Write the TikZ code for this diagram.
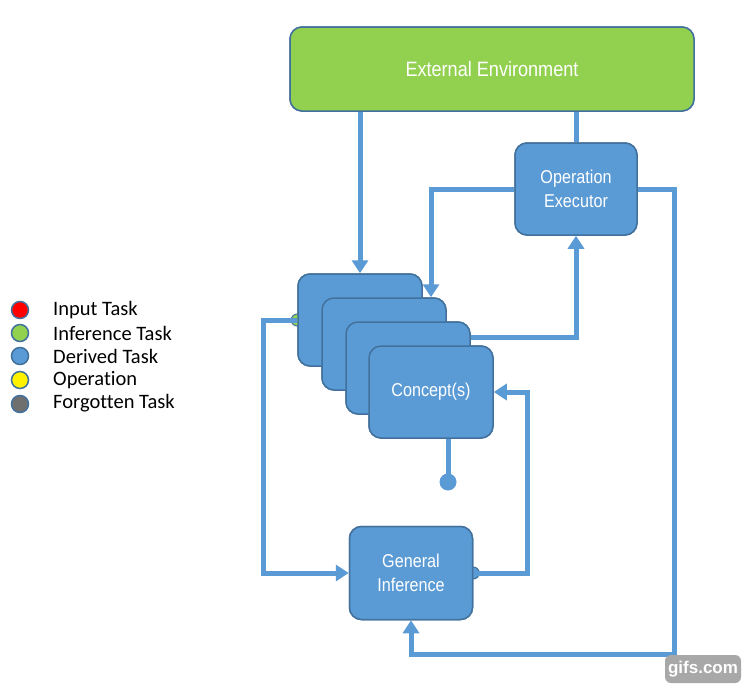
\documentclass[tikz,border=0pt]{standalone}
\usepackage{fontspec}
\setmainfont{Liberation Sans}
\newfontfamily\boxfont[FakeStretch=0.87]{Liberation Sans}
\newfontfamily\legendfont[Ligatures=NoCommon]{Carlito}
\usetikzlibrary{arrows.meta,calc}
\definecolor{boxblue}{HTML}{5B9BD5}
\definecolor{edgeblue}{HTML}{41719C}
\definecolor{envgreen}{HTML}{92D050}
\definecolor{fgray}{HTML}{6F6F6F}
\definecolor{wmgray}{HTML}{A8A8A8}
\tikzset{
  x=1pt,y=-1pt,
  procbox/.style={draw=edgeblue,line width=1.5pt,fill=boxblue,rounded corners=12pt,
    minimum width=123pt,minimum height=92pt,text=white,font=\boxfont\fontsize{18.6}{24}\selectfont,
    align=center,inner sep=0pt},
  envbox/.style={procbox,fill=envgreen,minimum width=404pt,minimum height=84pt,
    font=\boxfont\fontsize{20.8}{24}\selectfont},
  conn/.style={draw=boxblue,line width=5pt},
  arr/.style={conn,-{Triangle[width=16pt,length=13pt]}},
  legdot/.style={circle,draw=edgeblue,line width=1.5pt,minimum size=17pt,inner sep=0pt},
  legtext/.style={anchor=west,inner sep=0pt,font=\legendfont\fontsize{20.5}{24}\selectfont},
  bump/.style={circle,draw=edgeblue,line width=1pt,minimum size=12pt,inner sep=0pt}
}
\begin{document}
\begin{tikzpicture}
\useasboundingbox (0,0) rectangle (746,688);
\fill[white] (0,0) rectangle (746,688);
% node positions (placeholders for connectors)
\path node[envbox] (ext) at (492,69) {External Environment};
\path node[procbox,minimum width=122pt] (opex) at (576,189) {Operation\\Executor};
\path node[procbox,minimum width=124pt] (box1) at (360,320) {};
\path node[procbox,minimum width=124pt] (box2) at (384,344) {};
\path node[procbox,minimum width=124pt] (box3) at (408,368) {};
\path node[procbox,minimum width=124pt] (box4) at (431,392) {};
\path node[procbox,minimum height=93pt] (gi) at (411,573) {General\\Inference};
\coordinate (rc) at (674,654);
\coordinate (lc) at (263,320);
% bumps
\node[bump,fill=envgreen] (b1) at (box1.west) {};
\node[bump,fill=boxblue] (b2) at (gi.east) {};
% connectors
\draw[arr] (ext.south -| box1.north) -- (box1.north);
\draw[conn] (ext.south -| opex.north) -- (opex.north);
\draw[arr] (opex.west) -| ([xshift=47pt]box2.north);
\draw[arr] ([yshift=31pt]box3.east) -| (opex.south);
\draw[arr] (opex.east) -| (rc) -| (gi.south);
\draw[arr] (box1.west) -- (lc) |- (gi.west);
\draw[arr] (gi.east) -- ++(54,0) |- (box4.east);
\node[circle,fill=boxblue,minimum size=17pt,inner sep=0pt] (dot) at (448,482) {};
\draw[conn] ([xshift=17pt]box4.south) -- (dot.center);
% boxes on top
\node[envbox] at (ext) {External Environment};
\node[procbox,minimum width=122pt] at (opex) {Operation\\Executor};
\node[procbox,minimum width=124pt] at (box1) {};
\node[procbox,minimum width=124pt] at (box2) {};
\node[procbox,minimum width=124pt] at (box3) {};
\node[procbox,minimum width=124pt] at (box4) {Concept(s)};
\node[procbox,minimum height=93pt] at (gi) {General\\Inference};
% legend
\node[legdot,fill=red] (l1) at (20,310) {};
\node[legdot,fill=envgreen] (l2) at (20,333) {};
\node[legdot,fill=boxblue] (l3) at (20,356) {};
\node[legdot,fill=yellow] (l4) at (20,380) {};
\node[legdot,fill=fgray] (l5) at (20,404) {};
\node[legtext] (t1) at (53,310) {Input Task};
\node[legtext] (t2) at (53,333) {Inference Task};
\node[legtext] (t3) at (53,356) {Derived Task};
\node[legtext] (t4) at (53,380) {Operation};
\node[legtext] (t5) at (53,403) {Forgotten Task};
% watermark
\node[fill=wmgray,rounded corners=6pt,minimum width=76pt,minimum height=28pt,inner sep=0pt,
  text=white,font=\bfseries\fontsize{17}{20}\selectfont] (wm) at (703,669) {gifs.com};
\end{tikzpicture}
\end{document}
